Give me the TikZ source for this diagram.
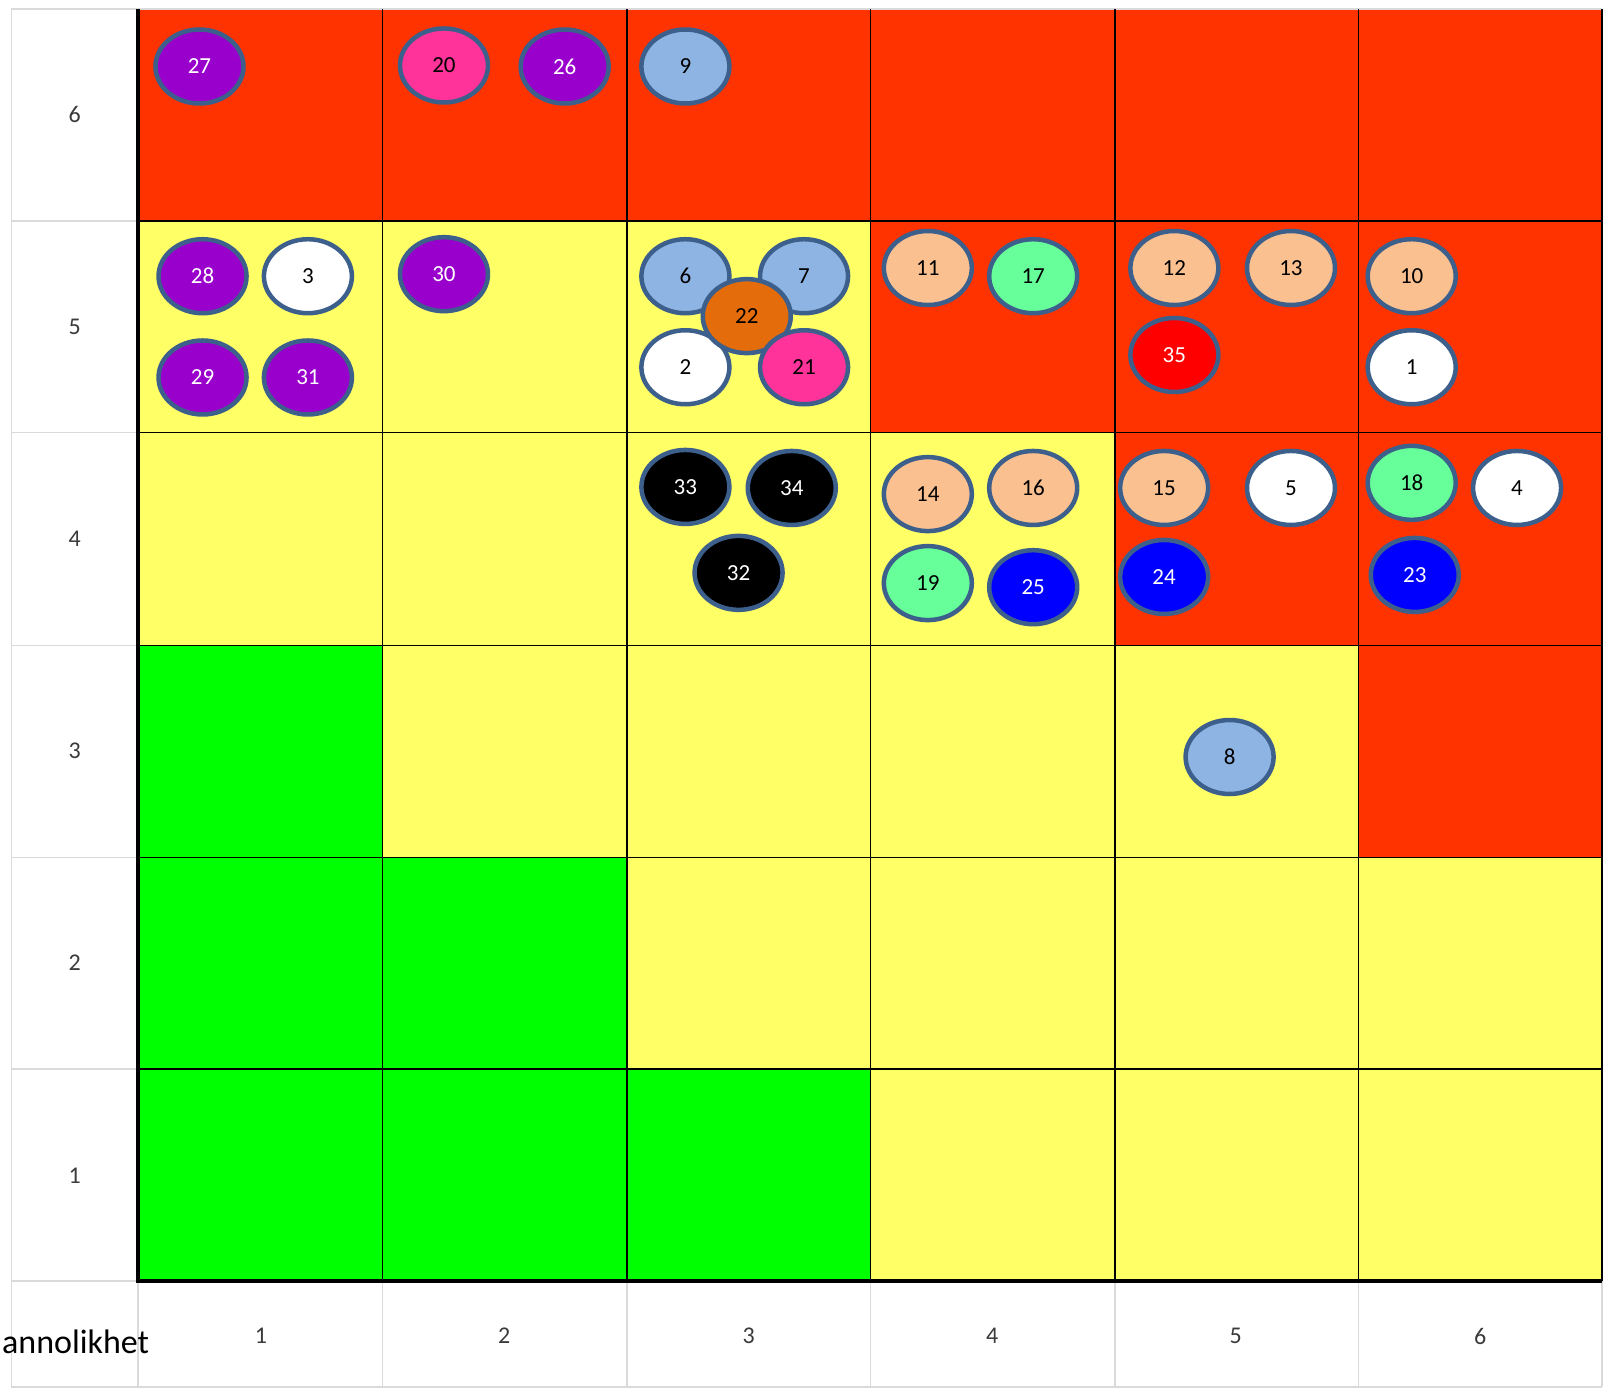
\documentclass[tikz,border=0pt]{standalone}
\usepackage{fontspec}
\setmainfont{Carlito}
\usetikzlibrary{shapes.geometric}
\definecolor{rred}{HTML}{FF3300}
\definecolor{ryel}{HTML}{FFFF66}
\definecolor{rgrn}{HTML}{00FF00}
\definecolor{cpur}{HTML}{9900CC}
\definecolor{cpink}{HTML}{FF3399}
\definecolor{clb}{HTML}{8EB4E3}
\definecolor{cpeach}{HTML}{FAC090}
\definecolor{cmint}{HTML}{66FF99}
\definecolor{corg}{HTML}{E46C0A}
\definecolor{cblue}{HTML}{0000FF}
\definecolor{cred}{HTML}{FF0000}
\definecolor{cedge}{HTML}{3C5F8B}
\definecolor{glines}{HTML}{DADADA}
\definecolor{axtxt}{HTML}{3A3A3A}
\tikzset{
  risk/.style={ellipse, draw=cedge, line width=4.5pt, minimum width=88pt, minimum height=74pt, inner sep=0pt, font=\fontsize{23}{27}\selectfont},
  dk/.style={risk, text=white},
  lt/.style={risk, text=black},
  grid line/.style={line width=1.5pt, black},
  frame line/.style={line width=3.5pt, black},
  gray line/.style={line width=1.5pt, glines},
  axlabel/.style={text=axtxt, font=\fontsize{24}{28}\selectfont, inner sep=0pt},
}
\begin{document}
\begin{tikzpicture}[x=1.023pt,y=-1.023pt]
\useasboundingbox (0,0) rectangle (1568,1359);
% cell fills
\fill[rred] (135,9) rectangle (1566,1252);
\fill[ryel] (135,216) rectangle (851,423);
\fill[ryel] (135,423) rectangle (1090,631);
\fill[ryel] (374,631) rectangle (1328,838);
\fill[ryel] (613,838) rectangle (1566,1045);
\fill[ryel] (851,1045) rectangle (1566,1252);
\fill[rgrn] (135,631) rectangle (374,838);
\fill[rgrn] (135,838) rectangle (613,1045);
\fill[rgrn] (135,1045) rectangle (851,1252);
% gray table lines
\draw[gray line] (11,9) -- (1566,9);
\draw[gray line] (11,9) -- (11,1356);
\draw[gray line] (11,1356) -- (1566,1356);
\foreach \yy in {216,423,631,838,1045,1252} \draw[gray line] (11,\yy) -- (135,\yy);
\foreach \xx in {135,374,613,851,1090,1328,1566} \draw[gray line] (\xx,1252) -- (\xx,1356);
% grid lines
\foreach \xx in {374,613,851,1090,1328,1566} \draw[grid line] (\xx,9) -- (\xx,1252);
\foreach \yy in {216,423,631,838,1045} \draw[grid line] (135,\yy) -- (1566,\yy);
\draw[frame line] (135,9) -- (135,1252) -- (1566,1252);
% axis labels
\node[axlabel] (y6) at (73,112) {6};
\node[axlabel] (y5) at (73,320) {5};
\node[axlabel] (y4) at (73,527) {4};
\node[axlabel] (y3) at (73,734) {3};
\node[axlabel] (y2) at (73,941) {2};
\node[axlabel] (y1) at (73,1149) {1};
\node[axlabel] (x1) at (255,1306) {1};
\node[axlabel] (x2) at (493,1306) {2};
\node[axlabel] (x3) at (732,1306) {3};
\node[axlabel] (x4) at (970,1306) {4};
\node[axlabel] (x5) at (1208,1306) {5};
\node[axlabel] (x6) at (1447,1306) {6};
\node[anchor=base east, inner sep=0pt, font=\fontsize{34}{40}\selectfont] (prob) at (146,1323) {annolikhet};
% row 6
\node[dk, fill=cpur] (n27) at (195,65) {27};
\node[lt, fill=cpink] (n20) at (434,64) {20};
\node[dk, fill=cpur] (n26) at (552,65) {26};
\node[lt, fill=clb] (n9) at (670,65) {9};
% row 5
\node[dk, fill=cpur] (n28) at (198,270) {28};
\node[lt, fill=white] (n3) at (301,270) {3};
\node[dk, fill=cpur] (n29) at (198,369) {29};
\node[dk, fill=cpur] (n31) at (301,369) {31};
\node[dk, fill=cpur] (n30) at (434,268) {30};
\node[lt, fill=clb] (n6) at (670,270) {6};
\node[lt, fill=clb] (n7) at (786,270) {7};
\node[lt, fill=white] (n2) at (670,359) {2};
\node[lt, fill=corg] (n22) at (730,309) {22};
\node[lt, fill=cpink] (n21) at (786,359) {21};
\node[lt, fill=cpeach] (n11) at (907,262) {11};
\node[lt, fill=cmint] (n17) at (1010,270) {17};
\node[lt, fill=cpeach] (n12) at (1148,262) {12};
\node[lt, fill=cpeach] (n13) at (1262,262) {13};
\node[dk, fill=cred] (n35) at (1148,347) {35};
\node[lt, fill=cpeach] (n10) at (1380,270) {10};
\node[lt, fill=white] (n1) at (1380,359) {1};
% row 4
\node[dk, fill=black] (n33) at (670,476) {33};
\node[dk, fill=black] (n34) at (774,477) {34};
\node[dk, fill=black] (n32) at (722,560) {32};
\node[lt, fill=cpeach] (n14) at (907,483) {14};
\node[lt, fill=cpeach] (n16) at (1010,477) {16};
\node[lt, fill=cmint] (n19) at (907,570) {19};
\node[dk, fill=cblue] (n25) at (1010,574) {25};
\node[lt, fill=cpeach] (n15) at (1138,477) {15};
\node[lt, fill=white] (n5) at (1262,477) {5};
\node[dk, fill=cblue] (n24) at (1138,564) {24};
\node[lt, fill=cmint] (n18) at (1380,472) {18};
\node[lt, fill=white] (n4) at (1483,477) {4};
\node[dk, fill=cblue] (n23) at (1383,562) {23};
% row 3
\node[lt, fill=clb] (n8) at (1202,740) {8};
\end{tikzpicture}
\end{document}
